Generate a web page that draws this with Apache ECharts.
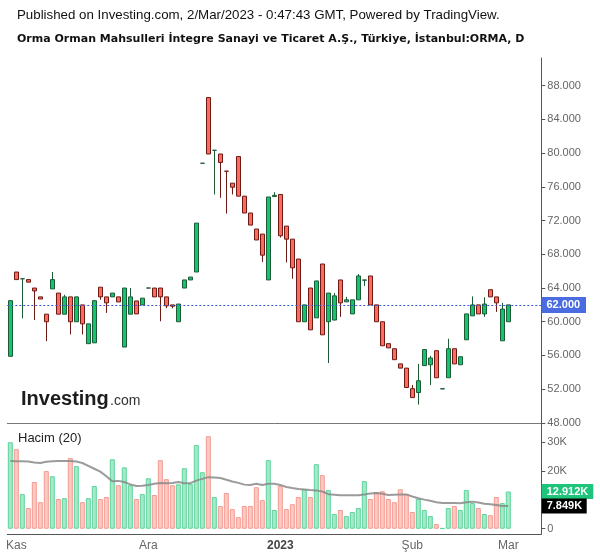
<!DOCTYPE html>
<html lang="tr">
<head>
<meta charset="UTF-8">
<title>ORMA</title>
<script src="https://cdn.jsdelivr.net/npm/echarts@6/dist/echarts.min.js"></script>
<style>
    html, body { margin: 0; padding: 0; background: #fff; }
    #main { width: 600px; height: 558px; }
</style>
</head>
<body>
<div id="main"></div>
<script>
// daily candles, 31 Oct 2022 .. 1 Mar 2023 (BIST closed 9-14 Feb)
var dates = [
    '2022-10-31',
    '2022-11-01','2022-11-02','2022-11-03','2022-11-04','2022-11-07','2022-11-08','2022-11-09','2022-11-10','2022-11-11',
    '2022-11-14','2022-11-15','2022-11-16','2022-11-17','2022-11-18','2022-11-21','2022-11-22','2022-11-23','2022-11-24',
    '2022-11-25','2022-11-28','2022-11-29','2022-11-30',
    '2022-12-01','2022-12-02','2022-12-05','2022-12-06','2022-12-07','2022-12-08','2022-12-09','2022-12-12','2022-12-13',
    '2022-12-14','2022-12-15','2022-12-16','2022-12-19','2022-12-20','2022-12-21','2022-12-22','2022-12-23','2022-12-26',
    '2022-12-27','2022-12-28','2022-12-29','2022-12-30',
    '2023-01-02','2023-01-03','2023-01-04','2023-01-05','2023-01-06','2023-01-09','2023-01-10','2023-01-11','2023-01-12',
    '2023-01-13','2023-01-16','2023-01-17','2023-01-18','2023-01-19','2023-01-20','2023-01-23','2023-01-24','2023-01-25',
    '2023-01-26','2023-01-27','2023-01-30','2023-01-31',
    '2023-02-01','2023-02-02','2023-02-03','2023-02-06','2023-02-07','2023-02-08','2023-02-15','2023-02-16','2023-02-17',
    '2023-02-20','2023-02-21','2023-02-22','2023-02-23','2023-02-24','2023-02-27','2023-02-28',
    '2023-03-01'
];

var openP = [55.9,65.9,65.1,65.0,64.0,62.95,60.9,63.9,63.4,60.9,62.95,60.0,62.0,57.4,57.5,64.1,62.95,62.95,62.95,57.0,
    60.9,62.47,62.0,64.0,64.0,64.0,62.95,62.0,60.0,64.0,64.96,65.9,78.8,86.6,80.34,79.9,77.86,76.44,79.6,74.9,
    72.9,71.0,70.4,64.96,74.85,75.1,71.35,69.8,67.44,60.0,64.0,60.46,66.85,60.0,60.2,64.96,62.36,60.93,62.6,64.93,
    65.43,62.0,60.0,57.4,56.8,55.0,54.5,52.06,51.6,54.8,54.9,56.56,52.03,53.36,56.8,54.9,57.86,60.7,62.0,60.93,
    63.8,62.95,57.74,60.0];
var closeP = [62.5,65.0,65.1,64.7,63.66,62.7,60.0,65.0,60.9,62.95,60.0,62.95,59.75,59.75,62.5,62.95,62.24,63.4,62.35,64.0,
    62.95,60.93,62.8,64.0,62.95,62.95,61.88,61.85,62.1,64.96,65.3,71.7,78.8,79.9,80.34,78.9,77.86,75.96,74.9,72.9,
    71.47,69.7,67.9,74.8,75.0,70.2,69.8,66.4,60.0,62.0,59.04,64.84,58.45,63.4,63.07,62.24,62.6,62.6,65.43,64.96,
    62.0,60.0,57.15,56.9,55.5,54.5,52.2,51.0,53.0,56.7,55.7,53.36,52.06,56.8,55.0,55.85,60.93,62.0,60.93,62.1,
    62.95,62.24,61.5,62.0];
var lowP = [55.9,65.0,60.4,64.7,60.2,62.7,57.7,63.9,60.9,60.9,58.5,60.0,58.5,57.4,57.5,62.6,61.05,62.95,62.35,57.0,
    60.9,60.93,62.0,64.0,62.95,60.06,61.6,61.6,60.0,64.0,64.96,65.9,78.8,79.9,75.1,74.7,72.84,75.1,74.9,72.9,
    71.47,69.7,67.1,64.96,74.85,70.0,67.04,65.1,60.0,60.0,59.04,60.46,58.45,55.1,60.2,60.58,62.36,60.93,62.6,64.25,
    62.0,60.0,57.15,56.9,55.5,54.5,52.2,51.0,50.17,54.8,52.5,53.36,52.03,53.36,55.0,54.9,57.86,60.7,60.93,60.58,
    62.95,61.17,57.74,60.0];
var highP = [62.5,65.9,65.1,65.0,64.0,62.95,60.9,65.9,63.4,63.2,62.95,62.95,62.0,59.75,62.5,64.1,62.95,63.4,62.95,64.0,
    64.0,62.47,62.8,64.0,64.0,64.0,62.95,62.0,62.1,64.96,65.3,71.7,78.8,86.6,80.34,79.9,77.86,76.44,79.6,74.9,
    72.9,71.0,70.4,74.8,75.37,75.1,71.35,69.8,67.44,62.0,64.0,64.84,66.85,63.4,63.4,64.96,62.95,62.6,65.67,64.96,
    65.43,62.0,60.0,57.4,56.8,55.0,54.5,52.5,55.0,56.7,55.96,56.56,52.06,57.98,56.8,55.85,60.93,63.0,62.0,62.9,
    63.8,62.95,62.24,62.0];

// volume in thousands, and its 20-day average as drawn
var volume = [30.0,27.6,12.0,7.2,16.2,9.2,20.0,18.2,10.3,10.6,24.5,21.7,9.2,10.6,14.8,10.3,11.0,24.1,15.1,21.3,
    15.1,10.3,12.0,17.5,11.7,23.8,17.2,15.1,15.4,21.0,15.6,29.0,19.6,32.1,11.0,7.9,12.4,6.8,4.0,7.9,
    7.9,14.4,9.9,23.8,6.5,14.8,6.8,8.5,11.0,13.7,11.0,22.4,18.6,13.4,5.1,6.5,4.4,5.8,7.2,16.5,
    10.3,12.7,13.0,10.3,9.2,13.7,12.0,5.8,10.3,6.5,4.4,1.6,0.2,7.2,7.9,6.5,13.4,8.9,7.2,5.1,
    4.7,11.0,8.9,12.912];
var volMa = [23.5,23.4,23.4,23.3,23.0,22.8,23.2,23.4,23.5,23.5,23.5,23.3,22.8,21.8,20.8,19.8,18.2,16.5,16.6,16.2,
    15.4,14.8,14.9,15.2,15.6,15.9,15.8,15.9,16.2,15.8,15.8,16.7,17.3,17.9,17.8,17.6,17.0,16.4,15.9,15.3,
    15.2,15.6,15.2,15.6,15.6,15.2,14.5,14.1,13.8,13.6,13.4,13.3,12.9,12.0,11.8,11.6,11.6,11.6,11.6,11.9,
    12.2,12.4,12.1,11.7,11.8,11.9,11.9,11.2,10.6,10.1,9.7,9.2,8.9,8.9,8.9,8.85,9.2,9.4,9.1,8.7,
    8.5,8.2,7.9,7.849];

var priceTicks = [48, 52, 56, 60, 64, 68, 72, 76, 80, 84, 88];
var volTicks = [0, 10, 20, 30];
var monthIdx = [1, 23, 45, 67, 83];
var monthNames = ['Kas', 'Ara', '2023', 'Şub', 'Mar'];

var cats = dates.concat(['', '', '', '', '']);   // empty room before the price scale
var candles = [];
for (var i = 0; i < dates.length; i++) {
    candles.push([openP[i], closeP[i], lowP[i], highP[i]]);
}
function isUp(i) {
    if (closeP[i] !== openP[i]) return closeP[i] > openP[i];
    return i === 0 || closeP[i] >= closeP[i - 1];
}
var volData = volume.map(function (v, i) {
    var up = isUp(i);
    return {
        value: v,
        itemStyle: up ? {color: '#a6e9ca', borderColor: '#5dd49c'} : {color: '#fdc9c5', borderColor: '#f49a91'}
    };
});
var lastClose = closeP[closeP.length - 1];

var font = '"Liberation Sans", Arial, sans-serif';
var chart = echarts.init(document.getElementById('main'));
var option = {
    animation: false,
    textStyle: {fontFamily: font},
    grid: [
        {left: 7.3, right: 58.7, top: 58, bottom: 135.1},
        {left: 7.3, right: 58.7, top: 423, bottom: 24}
    ],
    xAxis: [{
        type: 'category', gridIndex: 0, data: cats, boundaryGap: true,
        axisLine: {lineStyle: {color: '#777'}},
        axisTick: {show: false}, axisLabel: {show: false}, splitLine: {show: false}
    }, {
        type: 'category', gridIndex: 1, data: cats, boundaryGap: true,
        axisLine: {onZero: false, lineStyle: {color: '#555'}},
        axisTick: {
            alignWithLabel: true, length: 4, lineStyle: {color: '#555'},
            interval: function (idx) { return monthIdx.indexOf(idx) >= 0; }
        },
        axisLabel: {
            interval: function (idx) { return monthIdx.indexOf(idx) >= 0; },
            formatter: function (v, idx) {
                var k = monthIdx.indexOf(idx);
                if (k < 0) return '';
                return monthNames[k] === '2023' ? '{b|2023}' : monthNames[k];
            },
            color: '#666', fontSize: 12, margin: 6,
            rich: {b: {fontWeight: 'bold', color: '#444', fontSize: 12}}
        },
        splitLine: {show: false}
    }],
    yAxis: [{
        type: 'value', gridIndex: 0, position: 'right', min: 48, max: 91.29,
        splitLine: {show: false},
        axisLine: {show: true, lineStyle: {color: '#555'}},
        axisTick: {show: true, length: 4, customValues: priceTicks, lineStyle: {color: '#555'}},
        axisLabel: {
            customValues: priceTicks, color: '#666', fontSize: 11, margin: 6,
            formatter: function (v) { return v.toFixed(3); }
        }
    }, {
        type: 'value', gridIndex: 1, position: 'right', min: -1.83, max: 36.68,
        splitLine: {show: false},
        axisLine: {show: true, onZero: false, lineStyle: {color: '#555'}},
        axisTick: {show: true, length: 4, customValues: volTicks, lineStyle: {color: '#555'}},
        axisLabel: {
            customValues: volTicks, color: '#666', fontSize: 11, margin: 6,
            formatter: function (v) { return v === 0 ? '0' : v + 'K'; }
        }
    }],
    series: [{
        type: 'candlestick', xAxisIndex: 0, yAxisIndex: 0,
        data: candles, barWidth: 4.4,
        itemStyle: {
            color: '#12c36f', color0: '#fc6b5e',
            borderColor: '#1d5b37', borderColor0: '#6e1a14', borderWidth: 1
        },
        markLine: {
            silent: true, symbol: ['none', 'none'], label: {show: false},
            lineStyle: {color: '#3a5bd6', type: [2, 2], width: 1},
            data: [{yAxis: lastClose}]
        }
    }, {
        type: 'bar', xAxisIndex: 1, yAxisIndex: 1,
        data: volData, barWidth: 5,
        itemStyle: {borderWidth: 1}
    }, {
        type: 'line', xAxisIndex: 1, yAxisIndex: 1,
        data: volMa, showSymbol: false, symbol: 'none',
        lineStyle: {color: '#8a8a8a', width: 2, opacity: 0.85}
    }]
};
chart.setOption(option);

// header, logo and last-value boxes on the scales
var yLast = chart.convertToPixel({yAxisIndex: 0}, lastClose);
var yVol = chart.convertToPixel({yAxisIndex: 1}, volume[volume.length - 1]);
var yMa = chart.convertToPixel({yAxisIndex: 1}, volMa[volMa.length - 1]);
function box(x, y, w, h, fill, label) {
    return [
        {type: 'rect', shape: {x: x, y: y - h / 2, width: w, height: h}, style: {fill: fill}, z: 10},
        {type: 'text', x: x + 5, y: y, z: 11,
         style: {text: label, fill: '#fff', font: 'bold 11px ' + font, verticalAlign: 'middle'}}
    ];
}
var graphics = [
    {type: 'text', left: 17, top: 9,
     style: {text: 'Published on Investing.com, 2/Mar/2023 - 0:47:43 GMT, Powered by TradingView.',
             fill: '#111', font: '13.3px ' + font}},
    {type: 'text', left: 17, top: 34,
     style: {text: 'Orma Orman Mahsulleri İntegre Sanayi ve Ticaret A.Ş., Türkiye, İstanbul:ORMA, D',
             fill: '#111', font: 'bold 11px "DejaVu Sans", sans-serif'}},
    {type: 'text', left: 21, top: 389,
     style: {text: 'Investing', fill: '#1c1c1c', font: 'bold 20px ' + font}},
    {type: 'text', left: 110, top: 394,
     style: {text: '.com', fill: '#333', font: '14px ' + font}},
    {type: 'text', left: 18, top: 432,
     style: {text: 'Hacim (20)', fill: '#222', font: '13px ' + font}}
];
graphics = graphics.concat(
    box(541.5, yLast, 44.5, 16, '#4a6ce0', lastClose.toFixed(3)),
    box(541.7, yVol, 51.6, 15, '#1fc47c', volume[volume.length - 1].toFixed(3) + 'K'),
    box(541.7, yMa, 45, 15, '#000', volMa[volMa.length - 1].toFixed(3) + 'K')
);
chart.setOption({graphic: graphics});
</script>
</body>
</html>
